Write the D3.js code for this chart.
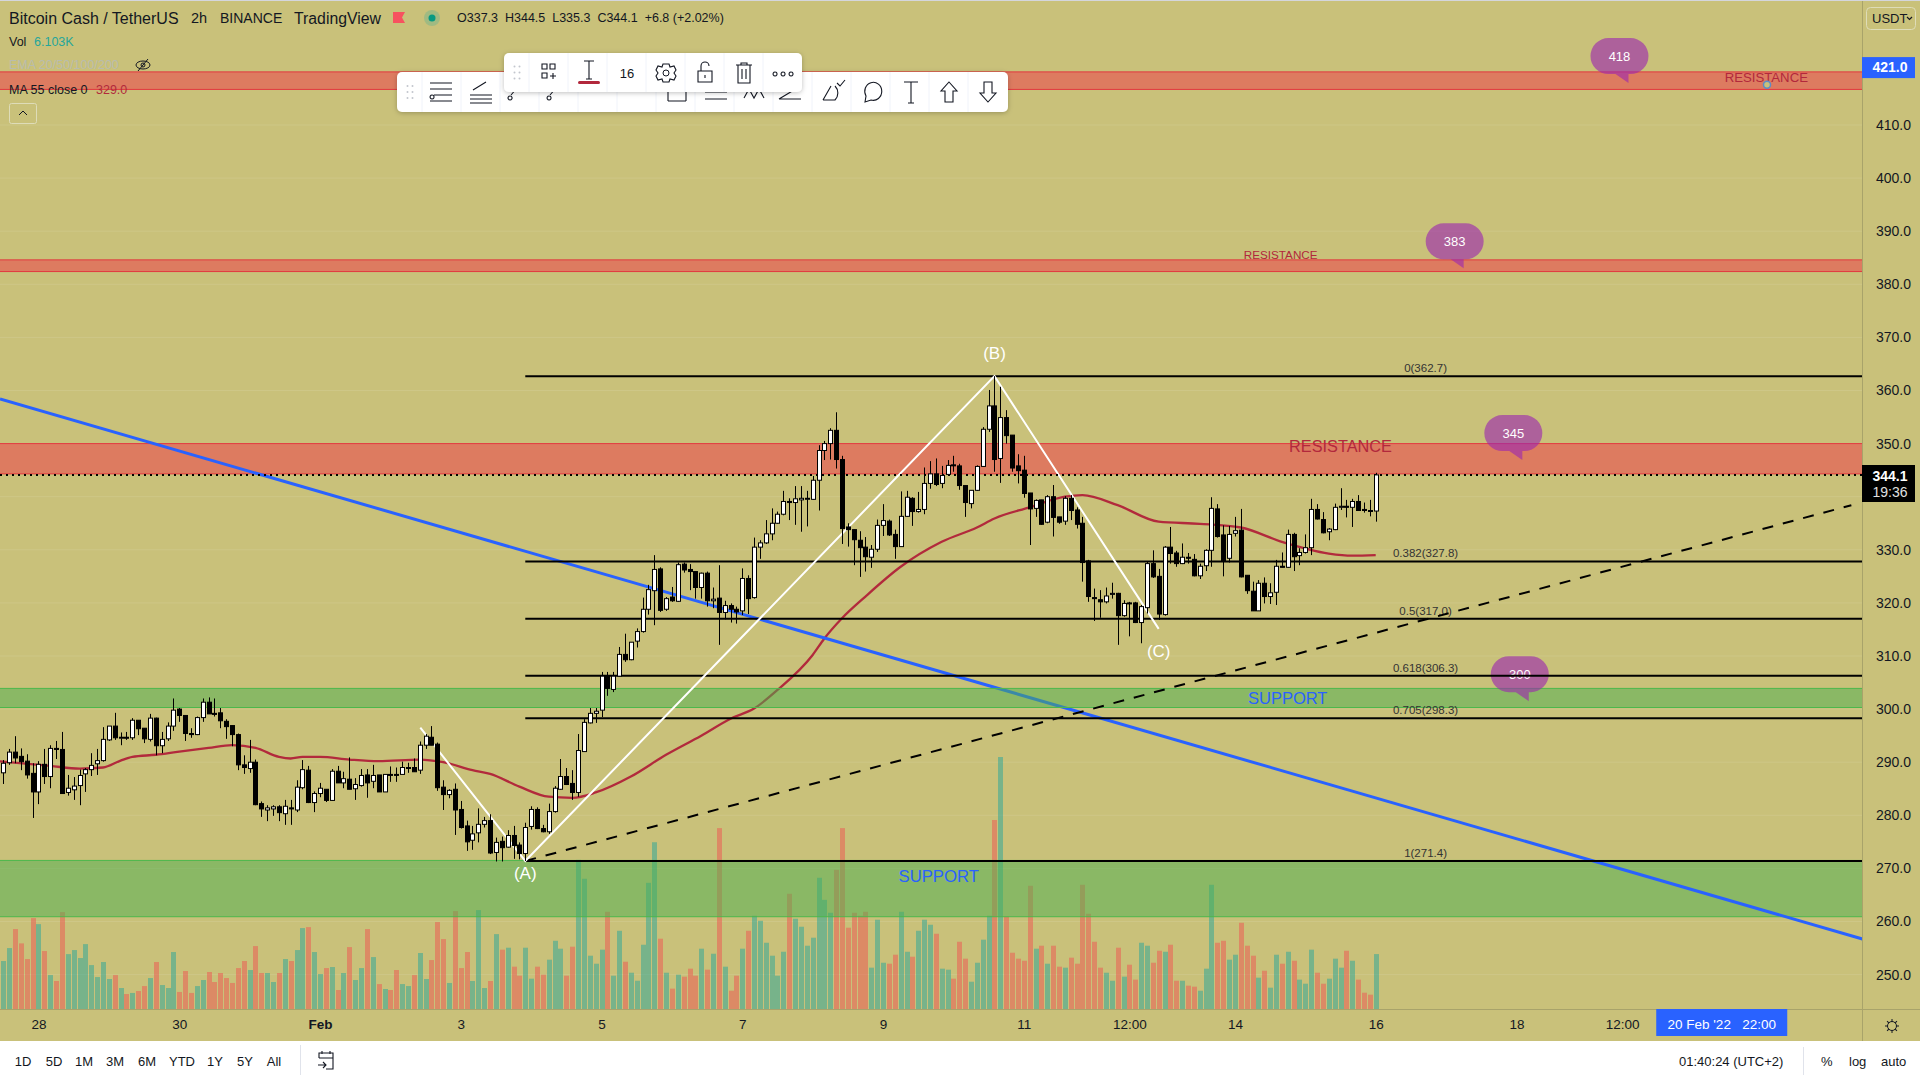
<!DOCTYPE html>
<html lang="en">
<head>
<meta charset="UTF-8">
<title>BCHUSDT 2h</title>
<script src="https://cdn.jsdelivr.net/npm/d3@7"></script>
<style>
  html, body { margin: 0; padding: 0; background: #fff; overflow: hidden; }
  svg { display: block; }
  text { font-family: "Liberation Sans", Arial, sans-serif; }
</style>
</head>
<body>
<div id="chart"></div>
<script>
// OHLC, one value per 2h bar, first bar is 27 Jan 12:00
var opens = [
  288.0,289.9,291.9,291.1,290.2,287.9,284.4,289.6,287.3,292.6,
  292.4,284.3,284.8,285.6,287.8,288.6,289.7,290.3,294.2,296.8,
  294.6,294.7,294.6,297.9,296.4,294.3,298.3,293.1,294.4,296.8,
  300.0,298.8,295.4,295.2,298.4,301.3,299.2,299.3,297.7,296.9,
  295.2,289.5,288.8,290.0,282.2,281.0,281.2,281.6,280.3,281.4,
  281.0,285.2,288.5,282.4,284.1,284.9,282.8,288.3,286.1,286.8,
  285.0,285.6,287.6,286.4,287.6,284.4,287.7,287.7,287.7,288.9,
  289.0,288.5,293.2,294.7,293.4,285.3,283.9,284.9,281.1,278.0,
  275.3,276.7,278.3,279.0,273.0,275.1,274.0,276.2,274.4,272.8,
  277.9,281.1,277.5,276.9,280.7,284.9,287.3,286.0,284.3,292.0,
  297.4,299.2,299.8,306.2,303.7,306.2,310.3,309.3,312.8,314.6,
  318.8,322.3,326.4,318.8,321.1,320.3,327.3,326.3,325.9,322.9,
  325.6,320.4,320.9,318.2,319.5,318.8,318.5,324.6,321.0,330.5,
  331.3,333.0,335.0,336.7,339.1,338.9,339.4,339.6,339.5,343.1,
  348.7,350.0,352.5,347.0,334.3,333.8,331.8,330.5,328.6,330.1,
  334.6,335.4,332.9,330.6,336.3,339.7,337.2,337.6,342.5,344.3,
  342.5,344.2,346.0,345.8,342.1,338.7,341.2,345.7,352.7,357.1,
  347.2,354.9,351.6,345.8,345.0,340.7,337.8,339.4,335.2,340.0,
  336.2,335.4,339.7,337.5,335.0,327.9,321.0,320.6,320.2,321.6,
  321.8,317.6,320.0,320.0,316.3,319.1,327.4,325.0,317.8,330.5,
  329.4,327.4,328.6,328.2,325.1,327.0,329.9,337.7,332.8,328.4,
  333.1,333.7,325.2,322.2,318.5,323.7,321.2,322.0,326.9,326.7,
  332.9,328.9,329.5,330.4,337.6,335.7,333.4,333.8,338.0,338.2,
  338.0,339.1,337.6,337.4,337.3];
var highs = [
  290.4,292.5,294.9,292.6,291.5,289.8,290.2,292.5,293.2,294.0,
  295.7,287.6,287.2,288.6,288.9,291.7,292.5,296.6,296.8,299.3,
  295.6,295.7,298.3,297.9,296.4,299.1,298.4,295.7,297.5,302.0,
  300.2,298.8,296.4,298.6,302.0,302.2,302.0,300.2,298.1,296.9,
  295.4,291.3,294.2,290.5,282.6,281.9,281.9,281.9,282.9,282.9,
  286.6,290.4,289.3,284.5,286.1,284.9,288.7,289.3,288.2,290.9,
  287.0,288.7,288.7,289.5,287.6,287.7,289.2,289.0,290.1,289.9,
  290.7,293.9,295.3,296.8,293.7,286.6,284.9,286.0,282.7,279.0,
  278.0,281.3,279.7,280.2,275.8,276.0,277.2,278.0,274.9,278.6,
  281.7,281.5,278.2,282.2,285.5,290.6,288.9,288.5,295.3,298.1,
  300.2,300.2,307.0,307.0,307.0,311.7,314.2,312.6,315.2,321.0,
  323.4,329.0,326.7,321.1,323.0,327.6,327.6,327.3,325.9,325.7,
  325.9,322.9,327.1,320.4,319.9,319.3,326.5,325.2,332.3,331.8,
  335.6,337.8,337.2,341.1,339.7,342.0,342.0,341.1,343.9,349.7,
  350.5,352.9,355.9,347.7,335.0,333.8,333.5,332.4,330.9,335.7,
  338.6,335.7,333.8,341.0,341.1,339.9,340.9,345.5,346.7,347.2,
  345.8,346.9,347.7,346.2,342.1,341.2,345.9,353.1,360.1,362.7,
  360.7,356.3,351.6,348.0,347.7,340.7,339.5,339.4,340.3,342.2,
  336.2,340.1,340.3,338.0,336.2,328.1,322.7,322.4,322.9,323.8,
  321.9,320.5,320.2,320.2,319.6,327.8,329.9,326.4,330.7,334.3,
  329.8,331.2,329.4,329.2,327.4,330.1,339.9,338.6,334.6,334.5,
  336.2,337.7,325.2,324.0,324.3,324.8,323.7,328.1,329.5,333.8,
  333.2,330.3,332.9,339.6,338.6,337.1,334.1,338.7,341.6,339.4,
  339.6,340.3,338.9,339.4,344.5];
var lows = [
  285.9,289.5,289.8,288.5,286.9,279.5,282.1,285.9,285.1,290.6,
  284.1,283.7,282.9,281.9,284.4,287.4,287.6,290.1,294.0,294.2,
  293.2,294.2,294.2,295.1,293.6,293.9,291.3,291.7,294.0,295.9,
  297.6,294.0,294.6,295.1,297.6,299.1,298.6,296.4,294.4,293.0,
  288.5,287.8,288.0,281.9,279.7,278.9,279.9,278.9,278.2,278.2,
  280.6,284.9,282.3,280.6,283.4,282.5,282.7,286.1,285.1,284.9,
  282.9,285.4,283.3,285.1,284.4,284.4,286.3,286.3,287.7,288.0,
  288.2,287.8,292.5,293.2,284.6,281.0,283.2,276.3,277.5,273.3,
  273.5,274.9,277.7,272.7,271.3,271.3,273.9,271.8,271.7,271.4,
  277.3,277.4,276.8,276.5,280.5,284.8,285.7,282.9,283.5,292.0,
  297.3,297.4,298.5,302.5,303.2,306.1,308.9,309.2,311.6,314.4,
  317.8,315.8,318.3,318.5,320.2,320.2,325.7,322.4,320.8,320.8,
  319.3,319.0,312.1,316.9,316.3,316.1,317.7,317.9,320.8,328.3,
  331.1,331.8,334.9,336.5,335.6,334.7,333.4,334.4,339.4,337.4,
  346.9,347.0,345.3,331.1,330.6,327.1,324.9,325.9,326.6,329.6,
  332.6,332.6,328.3,330.6,336.2,334.5,337.0,336.7,341.5,342.0,
  341.6,343.9,344.7,341.3,336.2,337.8,341.1,345.6,352.2,344.7,
  342.6,350.0,344.7,342.5,339.8,330.9,336.2,334.7,335.0,332.5,
  334.9,334.7,335.6,334.0,324.0,320.2,316.6,317.2,319.9,320.8,
  312.1,317.4,313.7,316.2,312.4,318.0,324.7,316.8,317.6,327.4,
  326.8,327.3,327.4,325.0,324.5,326.0,326.8,332.3,325.0,327.6,
  332.5,324.8,321.7,318.5,318.5,319.9,319.8,319.6,326.7,326.6,
  326.0,327.1,329.3,329.0,335.7,333.1,331.8,333.7,337.5,336.1,
  334.3,337.4,337.0,336.3,335.3];
var closes = [
  289.8,291.9,290.8,290.1,287.6,284.4,289.6,287.3,292.6,292.4,
  284.1,285.1,285.5,287.5,288.6,289.4,290.3,294.3,296.8,294.6,
  294.7,294.6,297.9,296.3,294.4,298.3,293.1,294.3,296.8,299.8,
  298.8,295.4,295.2,298.4,301.3,299.1,299.0,297.8,296.7,295.2,
  289.5,289.0,290.0,282.0,281.2,281.4,281.6,280.5,281.7,281.2,
  285.3,288.6,282.4,284.1,285.1,282.8,288.3,286.1,286.9,284.9,
  285.8,287.5,286.1,287.5,284.4,287.7,287.6,287.6,289.0,289.0,
  288.2,293.2,294.9,293.2,285.2,283.9,284.7,281.0,277.7,275.0,
  276.5,278.3,279.0,272.9,274.9,273.9,276.2,274.3,272.8,277.7,
  281.1,277.5,276.9,280.7,285.1,287.3,285.8,284.3,292.2,297.5,
  299.2,299.6,306.2,303.9,306.2,310.3,309.3,312.6,314.6,318.8,
  322.5,326.3,318.6,320.8,320.4,327.2,326.2,325.9,322.9,325.6,
  320.4,320.7,318.2,319.5,318.8,318.3,324.6,320.8,330.5,331.3,
  333.0,335.0,336.7,339.1,338.9,339.6,339.7,339.7,343.1,348.7,
  350.0,352.5,347.0,334.0,333.8,331.9,330.4,328.7,330.1,334.6,
  335.5,332.8,330.6,336.3,339.9,337.2,337.6,342.5,344.3,342.3,
  344.0,345.9,345.9,342.1,338.9,341.2,345.7,352.7,357.1,347.0,
  354.9,351.5,345.4,344.9,340.6,337.7,339.3,334.8,340.0,336.1,
  335.2,339.7,337.4,334.8,327.6,321.2,320.8,320.2,321.3,321.8,
  317.6,319.9,319.9,316.3,319.3,327.4,324.9,317.9,330.5,329.3,
  327.4,328.6,328.4,325.1,326.9,329.9,337.8,332.5,327.9,332.9,
  333.6,324.9,322.3,318.5,323.7,321.2,321.9,326.9,326.7,332.9,
  328.7,329.5,330.4,337.6,335.8,333.2,333.9,338.0,338.2,338.0,
  339.1,337.4,337.4,337.3,344.1];
// volume in thousands
var volumes = [
  5.33,6.77,8.88,7.29,5.55,10.1,9.43,6.44,3.77,3.11,
  10.77,6.10,6.55,5.66,7.21,4.88,3.55,5.22,3.33,3.77,
  2.33,1.66,1.78,2.0,2.55,3.44,5.22,2.66,2.33,6.33,
  1.89,4.22,1.78,2.55,3.22,4.11,3.0,4.0,3.44,2.89,
  4.55,5.33,4.33,6.99,4.0,4.0,3.0,4.0,5.55,5.33,
  6.55,8.99,9.1,6.33,3.88,4.55,4.66,2.11,4.0,6.88,
  3.22,4.55,8.88,5.77,2.77,2.22,2.11,4.33,2.77,2.55,
  3.77,6.22,3.33,5.44,9.66,7.77,2.89,10.88,4.55,6.33,
  3.11,10.99,2.33,3.11,8.32,6.59,6.81,4.70,3.70,6.81,
  3.37,4.70,3.81,5.48,7.58,6.70,3.70,6.92,16.57,14.47,
  5.92,5.03,6.59,10.80,3.70,8.69,5.25,4.03,3.14,7.14,
  14.02,18.53,7.81,4.03,2.26,3.81,3.59,4.48,3.70,6.70,
  4.37,6.14,20.1,4.70,2.03,3.70,6.70,8.69,10.36,9.80,
  7.36,5.92,3.70,6.36,12.80,10.03,9.14,7.03,7.92,14.58,
  12.13,10.69,15.46,20.1,9.03,10.69,10.36,10.80,4.59,9.92,
  5.14,5.03,6.03,10.80,6.36,5.81,8.69,9.92,9.36,8.36,
  4.48,4.37,3.37,7.47,5.59,3.03,5.14,7.70,10.36,21.0,
  28.0,10.25,6.25,5.59,5.36,13.69,6.70,7.03,5.03,7.03,
  4.70,4.59,5.70,5.03,13.80,10.58,7.47,4.59,4.03,3.14,
  6.81,3.59,4.92,3.26,7.36,7.03,5.14,6.47,6.36,7.14,
  3.14,3.14,2.59,2.48,2.03,4.48,13.80,7.36,7.58,5.48,
  6.03,9.58,7.03,5.92,3.48,4.25,2.37,6.03,5.03,6.36,
  5.36,3.26,2.81,6.59,4.03,2.81,3.37,5.59,4.59,6.47,
  5.36,3.26,1.81,1.59,6.103];

// MA 55, read at these bars
var maBars = [-1,8,13,17,20,22,26,30,35,39,43,47,49,51,54,59,64,71,75,80,83,88,93,97,101,107,113,119,124,128,132,138,140,143,147,153,160,166,169,175,181,184,190,197,204,211,218,226,230,234];
var maValues = [290.2,289.3,288.8,289.0,290.3,291.0,291.4,292.0,292.7,293.2,292.7,291.0,290.7,291.0,291.0,290.5,290.2,290.5,290.0,288.5,287.8,285.4,283.5,283.3,284.3,287.3,291.4,295.0,298.2,300.1,303.6,310.2,313.3,317.1,321.2,326.8,331.5,334.2,335.9,338.0,340.0,340.3,338.4,335.3,334.9,334.2,331.5,329.3,328.9,329.0];

var priceTicks = [250,260,270,280,290,300,310,320,330,340,350,360,370,380,390,400,410];
var timeTicks = [6,30,54,78,102,126,150,174,192,210,234,258,276];
var timeLabels = ["28","30","Feb","3","5","7","9","11","12:00","14","16","18","12:00"];

// resistance and support bands, [top, bottom]
var redZones = [[420,416.7],[384.6,382.4],[350,344.3]];
var lowerGreenZones = [[271.5,260.9]];
var upperGreenZones = [[303.9,300.3]];

var fibRatios = ["0","0.382","0.5","0.618","0.705","1"];
var fibLevels = [362.7,327.8,317.0,306.3,298.3,271.4];

// wave lines: bar, price
var waveBars = [71.1,89,169,197];
var wavePrices = [296.5,271.4,362.7,315.1];
var blueLineBars = [-0.56,317];
var blueLinePrices = [358.4,256.7];
var dashBars = [89,315.1];
var dashPrices = [271.4,338.4];

var calloutTexts = ["418","383","345","300"];
var calloutBars = [277.1,249,259,260.1];
var calloutPrices = [417.9,383,346.9,301.5];

var W = 1920, H = 1080;
var axisX = 1862, axisY = 1009, bottomY = 1041;
var bg = "#c9c17a";

var x = d3.scaleLinear().domain([0,234]).range([3.3,1375.7]);
var y = d3.scaleLinear().domain([410,250]).range([125,974.6]);
var volY = d3.scaleLinear().domain([0,28]).range([axisY,757]);

var bars = d3.range(opens.length);
function isUp(i) { return closes[i] >= opens[i]; }

var svg = d3.select("#chart").append("svg").attr("width",W).attr("height",H);

var defs = svg.append("defs");
var shadow = defs.append("filter").attr("id","shadow").attr("x","-10%").attr("y","-30%").attr("width","120%").attr("height","170%");
shadow.append("feDropShadow").attr("dx",0).attr("dy",1).attr("stdDeviation",2.5).attr("flood-color","#000").attr("flood-opacity",.25);
defs.append("clipPath").attr("id","plot").append("rect").attr("width",axisX).attr("height",axisY);

svg.append("rect").attr("width",W).attr("height",H).attr("fill","#fff");
svg.append("rect").attr("y",1).attr("width",W).attr("height",bottomY-1).attr("fill",bg);
svg.append("rect").attr("width",W).attr("height",1).attr("fill","#d4d6dc");

var plot = svg.append("g").attr("clip-path","url(#plot)");

// faint grid
plot.append("g").selectAll("line").data(priceTicks).join("line")
  .attr("x1",0).attr("x2",axisX).attr("y1",y).attr("y2",y)
  .attr("stroke","#fff").attr("stroke-opacity",.1);

// volume
plot.append("g").selectAll("rect").data(bars).join("rect")
  .attr("x",function(i){ return Math.round(x(i))-2; })
  .attr("width",5)
  .attr("y",function(i){ return volY(volumes[i]); })
  .attr("height",function(i){ return axisY-volY(volumes[i]); })
  .attr("fill",function(i){ return isUp(i) ? "rgba(38,166,154,.5)" : "rgba(239,83,80,.5)"; });

// zones, the upper green one is drawn after the MA and trend line
function zones(list, fill, stroke) {
  var g = plot.append("g").selectAll("g").data(list).join("g");
  g.append("rect").attr("x",0).attr("width",axisX)
    .attr("y",function(d){ return y(d[0]); })
    .attr("height",function(d){ return y(d[1])-y(d[0]); })
    .attr("fill",fill);
  g.selectAll("line").data(function(d){ return d; }).join("line")
    .attr("x1",0).attr("x2",axisX).attr("y1",y).attr("y2",y)
    .attr("stroke",stroke).attr("stroke-width",1);
}
zones(redZones,"rgba(242,54,69,.5)","#e2393f");
zones(lowerGreenZones,"rgba(76,175,80,.5)","#4cb84c");

// MA
var maLine = d3.line().x(function(d){ return x(d[0]); }).y(function(d){ return y(d[1]); }).curve(d3.curveMonotoneX);
plot.append("path").datum(d3.zip(maBars,maValues)).attr("d",maLine)
  .attr("fill","none").attr("stroke","#b22a3c").attr("stroke-width",2.3);

// blue trend line
var straight = d3.line().x(function(d){ return x(d[0]); }).y(function(d){ return y(d[1]); });
plot.append("path").datum(d3.zip(blueLineBars,blueLinePrices)).attr("d",straight)
  .attr("fill","none").attr("stroke","#2962ff").attr("stroke-width",3);

zones(upperGreenZones,"rgba(76,175,80,.5)","#4cb84c");

// price callouts, the tail tip sits on the level
var calloutG = plot.append("g").selectAll("g").data(calloutTexts).join("g")
  .attr("transform",function(d,i){ return "translate("+x(calloutBars[i])+","+y(calloutPrices[i])+")"; });
calloutG.append("path")
  .attr("d","M-20,-45 h22 a18,18 0 0 1 0,36 h-2 l0,9 l-13,-9 h-7 a18,18 0 0 1 0,-36 z")
  .attr("fill","rgba(156,39,176,.62)");
calloutG.append("text").attr("x",-9).attr("y",-22).attr("text-anchor","middle")
  .attr("font-size",13).attr("fill","#fff").text(function(d){ return d; });

// fib levels
var fibG = plot.append("g").selectAll("g").data(fibLevels).join("g");
fibG.append("line").attr("x1",x(89)).attr("x2",axisX)
  .attr("y1",function(d){ return y(d); }).attr("y2",function(d){ return y(d); })
  .attr("stroke","#000").attr("stroke-width",2);
fibG.append("text").attr("x",x(242.5)).attr("y",function(d){ return y(d)-4; })
  .attr("text-anchor","middle").attr("font-size",11.5).attr("fill","#333")
  .text(function(d,i){ return fibRatios[i]+"("+d.toFixed(1)+")"; });

// dashed channel line
plot.append("path").datum(d3.zip(dashBars,dashPrices)).attr("d",straight)
  .attr("fill","none").attr("stroke","#000").attr("stroke-width",2).attr("stroke-dasharray","11 10");

// ABC wave
plot.append("path").datum(d3.zip(waveBars,wavePrices)).attr("d",straight)
  .attr("fill","none").attr("stroke","#fff").attr("stroke-width",2);

// current price
plot.append("line").attr("x1",0).attr("x2",axisX).attr("y1",y(344.1)).attr("y2",y(344.1))
  .attr("stroke","#000").attr("stroke-width",2).attr("stroke-dasharray","2 4");

// candles
var candle = plot.append("g").selectAll("g").data(bars).join("g");
candle.append("line")
  .attr("x1",function(i){ return Math.round(x(i))+.5; }).attr("x2",function(i){ return Math.round(x(i))+.5; })
  .attr("y1",function(i){ return y(highs[i]); }).attr("y2",function(i){ return y(lows[i]); })
  .attr("stroke","#000").attr("stroke-width",1);
candle.append("rect")
  .attr("x",function(i){ return Math.round(x(i))-1.5; }).attr("width",4)
  .attr("y",function(i){ return y(Math.max(opens[i],closes[i])); })
  .attr("height",function(i){ return Math.max(1,Math.abs(y(opens[i])-y(closes[i]))); })
  .attr("fill",function(i){ return isUp(i) ? "#fff" : "#000"; })
  .attr("stroke","#000").attr("stroke-width",1);

// zone and wave labels
var labelTexts = ["RESISTANCE","RESISTANCE","RESISTANCE","SUPPORT","SUPPORT","(A)","(B)","(C)"];
var labelBars = [300.6,217.8,228,219,159.5,89,169,197];
var labelPrices = [419,385.5,349.5,302.0,268.6,269.1,367,311];
var labelSizes = [13.2,11.7,16.3,16.5,16.7,17,17,17];
var labelColors = ["#b2283c","#b2283c","#b2283c","#2962ff","#2962ff","#fff","#fff","#fff"];
plot.append("g").selectAll("text").data(labelTexts).join("text")
  .attr("x",function(d,i){ return x(labelBars[i]); })
  .attr("y",function(d,i){ return y(labelPrices[i]); })
  .attr("dy",".35em").attr("text-anchor","middle")
  .attr("font-size",function(d,i){ return labelSizes[i]; })
  .attr("fill",function(d,i){ return labelColors[i]; })
  .text(function(d){ return d; });
plot.append("circle").attr("cx",1767).attr("cy",y(417.6)).attr("r",3.5)
  .attr("fill",bg).attr("stroke","#5b8cc9").attr("stroke-width",1.5);

// price axis
svg.append("rect").attr("x",axisX).attr("y",1).attr("width",W-axisX).attr("height",bottomY-1).attr("fill",bg);
svg.append("line").attr("x1",axisX+.5).attr("x2",axisX+.5).attr("y1",1).attr("y2",bottomY).attr("stroke","#a8a36a");
svg.append("line").attr("x1",0).attr("x2",W).attr("y1",axisY+.5).attr("y2",axisY+.5).attr("stroke","#a8a36a");
var priceAxis = svg.append("g").attr("transform","translate("+axisX+",0)")
  .call(d3.axisRight(y).tickValues(priceTicks).tickFormat(d3.format(".1f")).tickSize(0).tickPadding(14));
priceAxis.select(".domain").remove();
priceAxis.selectAll("text").attr("font-size",14).attr("fill","#131722").attr("font-family","Liberation Sans");

// time axis
var timeAxis = svg.append("g").attr("transform","translate(0,"+axisY+")")
  .call(d3.axisBottom(x).tickValues(timeTicks).tickFormat(function(d,i){ return timeLabels[i]; }).tickSize(0).tickPadding(10));
timeAxis.select(".domain").remove();
timeAxis.selectAll("text").attr("font-size",13.5).attr("fill","#131722").attr("font-family","Liberation Sans")
  .attr("font-weight",function(d,i){ return timeLabels[i]==="Feb" ? "bold" : null; });

// price tags
svg.append("rect").attr("x",axisX).attr("y",y(421)-9.5).attr("width",53).attr("height",21).attr("fill","#2962ff");
svg.append("text").attr("x",1890).attr("y",y(421)+1).attr("dy",".35em").attr("text-anchor","middle").attr("font-size",14).attr("font-weight","bold").attr("fill","#fff").text("421.0");
svg.append("rect").attr("x",axisX).attr("y",465).attr("width",53).attr("height",37).attr("fill","#000");
svg.append("text").attr("x",1890).attr("y",476).attr("dy",".35em").attr("text-anchor","middle").attr("font-size",14).attr("font-weight","bold").attr("fill","#fff").text("344.1");
svg.append("text").attr("x",1890).attr("y",492).attr("dy",".35em").attr("text-anchor","middle").attr("font-size",14).attr("fill","#e0e0e0").text("19:36");

svg.append("rect").attr("x",1866.5).attr("y",7.5).attr("width",49).attr("height",22).attr("rx",4).attr("fill","none").attr("stroke","#dedcb8");
svg.append("text").attr("x",1872).attr("y",18).attr("dy",".35em").attr("font-size",13).attr("fill","#131722").text("USDT");
svg.append("path").attr("d","M1907,17 l2.5,2.5 l2.5,-2.5").attr("fill","none").attr("stroke","#131722").attr("stroke-width",1.2);

// crosshair date
svg.append("rect").attr("x",x(293)-65.5).attr("y",axisY).attr("width",131).attr("height",27).attr("fill","#2962ff");
svg.append("text").attr("x",x(293)).attr("y",axisY+15).attr("dy",".35em").attr("text-anchor","middle").attr("font-size",13.5).attr("fill","#fff")
  .attr("xml:space","preserve").text("20 Feb '22   22:00");

// settings icon in the axis corner
var gear = svg.append("g").attr("transform","translate(1892,1026)").attr("fill","none").attr("stroke","#131722").attr("stroke-width",1);
gear.append("circle").attr("r",4.5);
gear.selectAll("line").data(d3.range(8)).join("line")
  .attr("y1",-4.5).attr("y2",-7).attr("transform",function(d){ return "rotate("+d*45+")"; });

// legend
function txt(xp, yp, s, size, fill, weight) {
  return svg.append("text").attr("x",xp).attr("y",yp).attr("dy",".35em").attr("font-size",size).attr("fill",fill).attr("font-weight",weight||null).text(s);
}
txt(9,18,"Bitcoin Cash / TetherUS",16,"#131722");
txt(191,18,"2h",14.5,"#131722");
txt(220,18,"BINANCE",14,"#131722");
txt(294,18,"TradingView",15.8,"#131722");
svg.append("path").attr("d","M393,12 h12 l-3,5.5 l3,5.5 h-12 z").attr("fill","#f7525f");
svg.append("circle").attr("cx",432).attr("cy",18).attr("r",8).attr("fill","#26a69a").attr("opacity",.25);
svg.append("circle").attr("cx",432).attr("cy",18).attr("r",3.5).attr("fill","#089981");
txt(457,18,"O337.3  H344.5  L335.3  C344.1  +6.8 (+2.02%)",12.5,"#131722").attr("xml:space","preserve");
txt(9,42,"Vol",12.5,"#131722");
txt(34,42,"6.103K",12.5,"#26a69a");
txt(9,65,"EMA 20/50/100/200",12.5,"#b8bcae");
var eye = svg.append("g").attr("transform","translate(143,65)").attr("fill","none").attr("stroke","#131722");
eye.append("ellipse").attr("rx",7).attr("ry",4);
eye.append("circle").attr("r",2);
eye.append("line").attr("x1",-5).attr("y1",6).attr("x2",5).attr("y2",-6);
txt(9,90,"MA 55 close 0",12.5,"#131722");
txt(96,90,"329.0",12.5,"#b22a3c");
svg.append("rect").attr("x",9.5).attr("y",103.5).attr("width",27).attr("height",20).attr("rx",2).attr("fill","none").attr("stroke","#dedcb8");
svg.append("path").attr("d","M19,115 l4,-4 l4,4").attr("fill","none").attr("stroke","#131722");

// drawing toolbars
function toolbar(x0, y0, w, h, cells, gripX) {
  var g = svg.append("g");
  g.append("rect").attr("x",x0).attr("y",y0).attr("width",w).attr("height",h).attr("rx",5)
    .attr("fill","#fff").attr("filter","url(#shadow)");
  g.selectAll("line").data(cells).join("line")
    .attr("x1",function(d){ return d; }).attr("x2",function(d){ return d; })
    .attr("y1",y0).attr("y2",y0+h).attr("stroke","#f0f3fa");
  var dots = d3.cross([0,5],[-6,0,6]);
  g.selectAll("circle").data(dots).join("circle")
    .attr("cx",function(d){ return gripX+d[0]; }).attr("cy",function(d){ return y0+h/2+d[1]; })
    .attr("r",1).attr("fill","#c3c6ce");
  return g;
}
function icon(parent, xc, yc, d) {
  return parent.append("path").attr("transform","translate("+xc+","+yc+")").attr("d",d)
    .attr("fill","none").attr("stroke","#131722").attr("stroke-width",1.1);
}
var lower = toolbar(397,72,611,40,d3.range(422,1000,39),407.5);
icon(lower,441,92,"M-11,-9 h22 M-11,-3 h22 M-7,3 h18 M-11,9 h22 M-9,3 a2,2 0 1 0 .1,0");
icon(lower,481,92,"M-11,3 h22 M-11,7 h22 M-11,11 h22 M-8,-2 l13,-8");
icon(lower,514,92,"M-3,3 l6,-7 M-4,4 a2,2 0 1 0 .1,0");
icon(lower,553,92,"M-3,3 l6,-7 M-4,4 a2,2 0 1 0 .1,0");
icon(lower,677,92,"M-9,-4 v13 M9,-4 v13 M-9,9 h18");
icon(lower,716,92,"M-11,0 h22 M-11,7 h22 M-11,-4 h22");
icon(lower,755,92,"M-11,6 l5,-9 l5,9 l5,-9 l5,9");
icon(lower,790,92,"M-11,7 h22 M-11,7 l20,-12");
icon(lower,833,92,"M-10,8 h12 a10,10 0 0 0 0,-14 M-10,8 l8,-14 M4,-9 l3,3 l5,-6");
icon(lower,871,92,"M-6,10 l1,-6 a8.5,9 0 1 1 5,4 z");
icon(lower,911,92,"M-7,-10 h14 M0,-10 v21 M-3,11 h6");
icon(lower,949,92,"M0,-10 l8,9 h-4 v11 h-8 v-11 h-4 z");
icon(lower,988,92,"M0,10 l8,-9 h-4 v-11 h-8 v11 h-4 z");
var upper = toolbar(504,53,298,39,d3.range(529,800,39),514.5);
icon(upper,548,73,"M-6,-9 h5 v5 h-5 z M2,-9 h5 v5 h-5 z M-6,0 h5 v5 h-5 z M5,0 v6 M2,3 h6");
icon(upper,589,71,"M-5,-10 h10 M0,-10 v18 M-3,8 h6");
upper.append("rect").attr("x",578).attr("y",81).attr("width",22).attr("height",3).attr("rx",1.5).attr("fill","#b2283c");
upper.append("text").attr("x",627).attr("y",73).attr("dy",".35em").attr("text-anchor","middle").attr("font-size",13).attr("fill","#131722").text("16");
upper.append("circle").attr("cx",666).attr("cy",73).attr("r",3).attr("fill","none").attr("stroke","#131722");
icon(upper,666,73,"M-3,-9 h6 l1,3 l4,-1 l2,4 l-2,3 l2,3 l-2,4 l-4,-1 l-1,3 h-6 l-1,-3 l-4,1 l-2,-4 l2,-3 l-2,-3 l2,-4 l4,1 z");
icon(upper,705,73,"M-7,-2 h14 v11 h-14 z M-4,-2 v-5 a4,4 0 0 1 8,0 M0,2 v3");
icon(upper,744,73,"M-8,-8 h16 M-3,-8 v-2 h6 v2 M-6,-8 v18 h12 v-18 M-2,-4 v10 M2,-4 v10");
icon(upper,776,72,"M-1,0 a2,2 0 1 0 .1,0");
icon(upper,784,72,"M-1,0 a2,2 0 1 0 .1,0");
icon(upper,792,72,"M-1,0 a2,2 0 1 0 .1,0");

// bottom bar
var rangeLabels = ["1D","5D","1M","3M","6M","YTD","1Y","5Y","All"];
var rangeX = [23,54,84,115,147,182,215,245,274];
svg.append("g").selectAll("text").data(rangeLabels).join("text")
  .attr("x",function(d,i){ return rangeX[i]; }).attr("y",1061).attr("dy",".35em").attr("text-anchor","middle")
  .attr("font-size",13).attr("fill","#131722").text(function(d){ return d; });
svg.append("line").attr("x1",300.5).attr("x2",300.5).attr("y1",1045).attr("y2",1075).attr("stroke","#e0e3eb");
icon(svg,326,1061,"M-7,-3 v-5 h14 v16 h-7 M-7,-3 h14 M-4,-10 v3 M4,-10 v3 M-8,4 h8 M-3,1 l3,3 l-3,3");
txt(1679,1061,"01:40:24 (UTC+2)",13,"#131722");
svg.append("line").attr("x1",1803.5).attr("x2",1803.5).attr("y1",1047).attr("y2",1075).attr("stroke","#e0e3eb");
txt(1821,1061,"%",13,"#131722");
txt(1849,1061,"log",13,"#131722");
txt(1881,1061,"auto",13,"#131722");
</script>
</body>
</html>
